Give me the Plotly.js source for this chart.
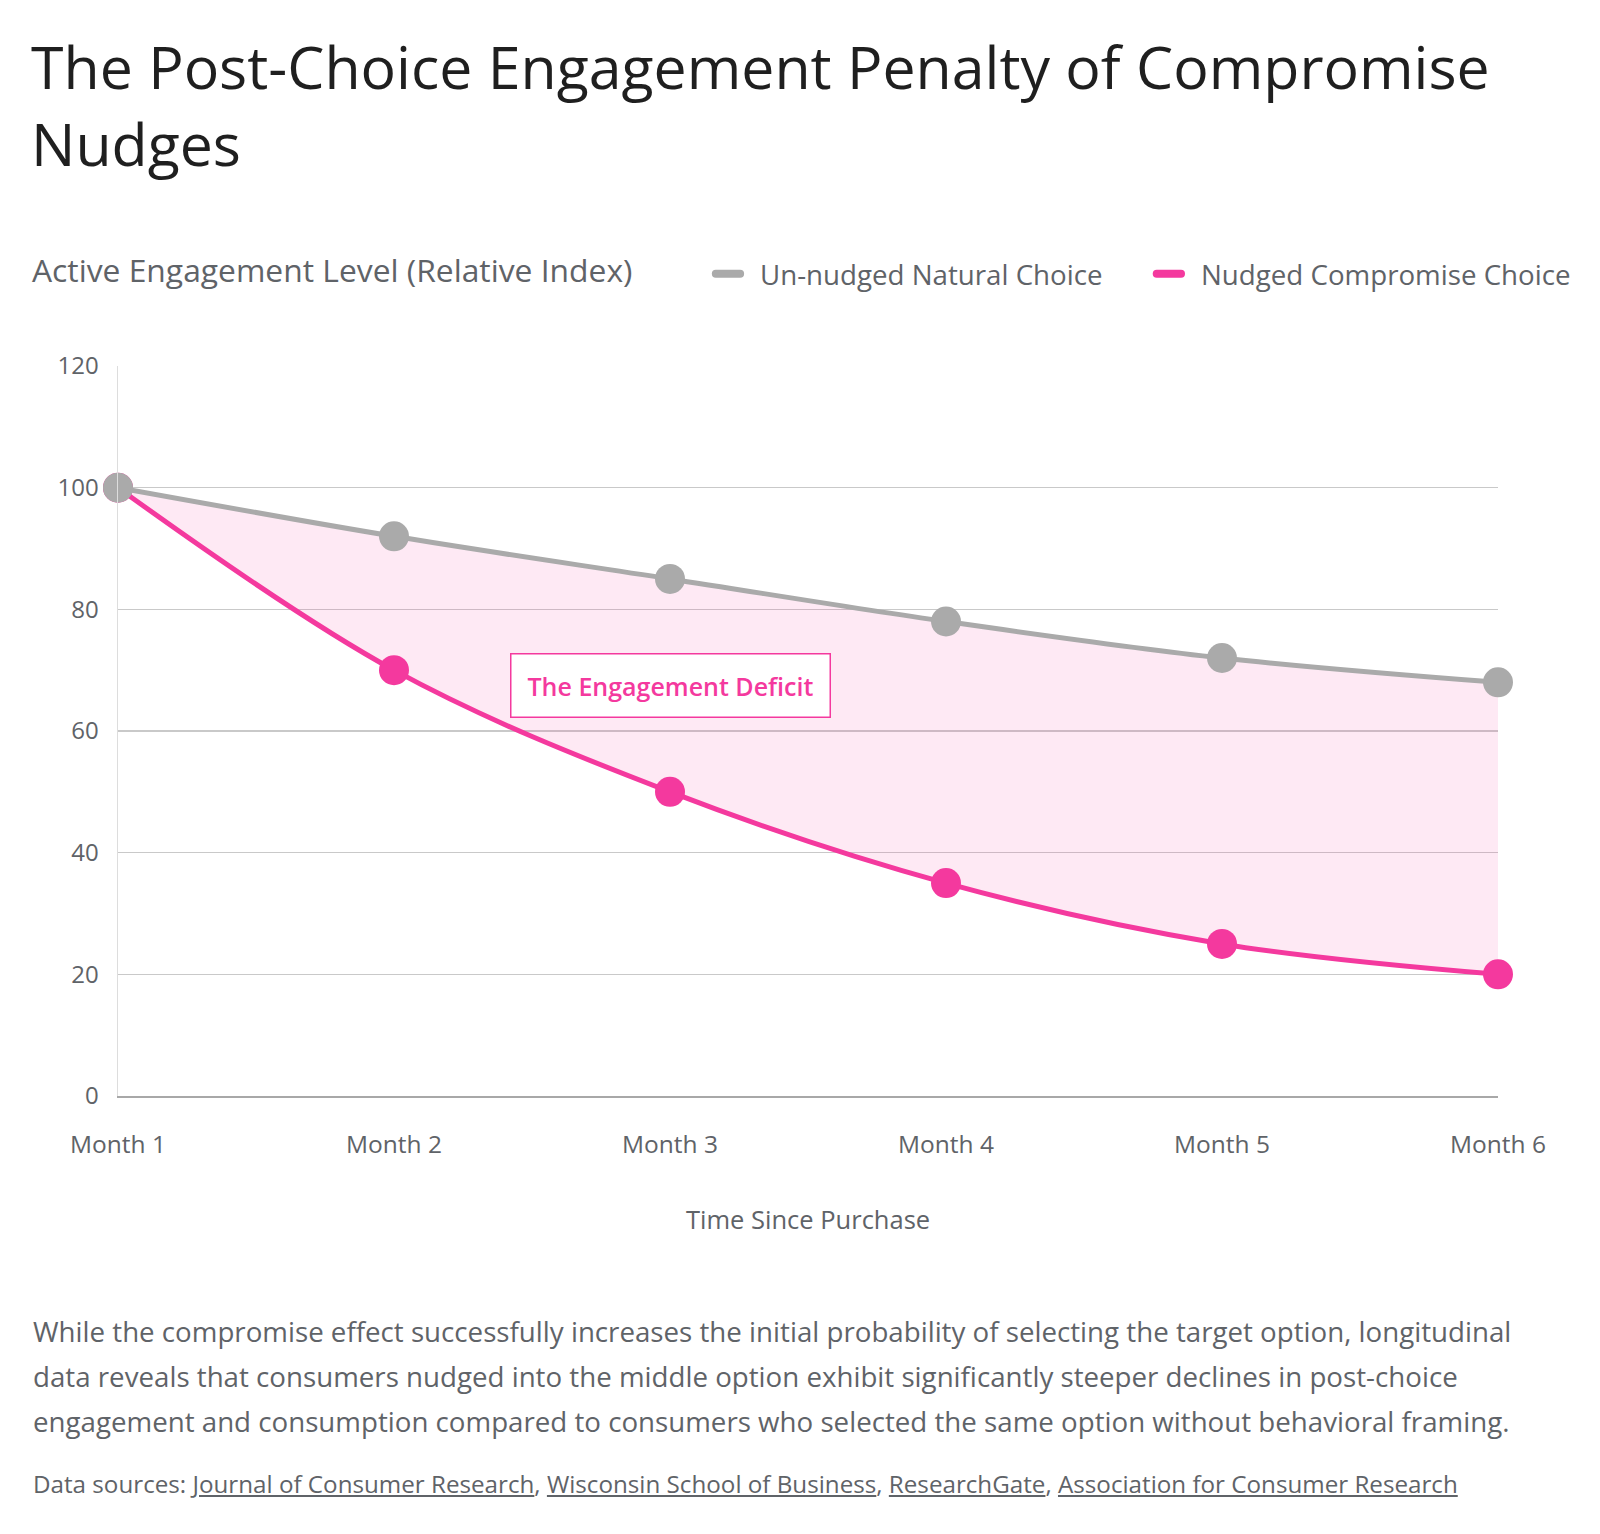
<!DOCTYPE html>
<html>
<head>
<meta charset="utf-8">
<script src="https://cdn.plot.ly/plotly-3.0.1.min.js"></script>
<style>
  html, body { margin: 0; padding: 0; background: #ffffff; }
  #page { position: relative; width: 1600px; height: 1534px; overflow: hidden; font-family: "Open Sans", Roboto, sans-serif; }
  #chart { position: absolute; left: 0; top: 0; width: 1600px; height: 1534px; }
  .title { position: absolute; left: 31px; top: 28px; width: 1560px; font-size: 59px; line-height: 77px; color: #1f1f1f; font-weight: 400; margin: 0; white-space: nowrap; }
  .caption { position: absolute; left: 33px; top: 1309px; width: 1560px; font-size: 27.7px; line-height: 45px; color: #5f6368; margin: 0; white-space: nowrap; }
  .sources { position: absolute; left: 33px; top: 1469px; font-size: 24.2px; line-height: 30px; color: #5f6368; margin: 0; white-space: nowrap; }
  .sources a { color: #5f6368; text-decoration: underline; }
  .shapelayer path { stroke-linecap: round; }
</style>
</head>
<body>
<div id="page">
  <div id="chart"></div>
  <h1 class="title">The Post-Choice Engagement Penalty of Compromise<br>Nudges</h1>
  <p class="caption">While the compromise effect successfully increases the initial probability of selecting the target option, longitudinal<br>data reveals that consumers nudged into the middle option exhibit significantly steeper declines in post-choice<br>engagement and consumption compared to consumers who selected the same option without behavioral framing.</p>
  <p class="sources">Data sources: <a href="#">Journal of Consumer Research</a>, <a href="#">Wisconsin School of Business</a>, <a href="#">ResearchGate</a>, <a href="#">Association for Consumer Research</a></p>
</div>
<script>
// Months since purchase
const months = ["Month 1", "Month 2", "Month 3", "Month 4", "Month 5", "Month 6"];
// Engagement index for each group
const unnudged = [100, 92, 85, 78, 72, 68];
const nudged = [100, 70, 50, 35, 25, 20];
const unnudgedName = "Un-nudged Natural Choice";
const nudgedName = "Nudged Compromise Choice";
const yTicks = [0, 20, 40, 60, 80, 100, 120];

const GREY = "#aaaaaa";
const PINK = "#f4399e";
const FONT = "'Open Sans', Roboto, sans-serif";
const TEXT = "#5f6368";

const traces = [
  {
    x: months, y: nudged, type: "scatter", mode: "lines+markers", cliponaxis: false,
    name: nudgedName,
    line: { color: PINK, width: 5, shape: "spline", smoothing: 1 },
    marker: { color: PINK, size: 30 },
    showlegend: false, hoverinfo: "skip"
  },
  {
    x: months, y: unnudged, type: "scatter", mode: "lines+markers", cliponaxis: false,
    name: unnudgedName,
    fill: "tonexty", fillcolor: "rgba(244,57,158,0.11)",
    line: { color: GREY, width: 5, shape: "spline", smoothing: 1 },
    marker: { color: GREY, size: 30 },
    showlegend: false, hoverinfo: "skip"
  }
];

// Top-right key: short rounded swatch followed by the series name
const KEY_Y = 1.1263;
const keyItems = [
  { name: unnudgedName, color: GREY, x0: 0.4332, x1: 0.4508, tx: 0.4640 },
  { name: nudgedName, color: PINK, x0: 0.7527, x1: 0.7703, tx: 0.7834 }
];
const keyShapes = keyItems.map(k => ({
  type: "line", xref: "paper", yref: "paper", x0: k.x0, x1: k.x1, y0: KEY_Y, y1: KEY_Y,
  line: { color: k.color, width: 8 }
}));
const keyLabels = keyItems.map(k => ({
  xref: "paper", yref: "paper", x: k.tx, y: KEY_Y, xanchor: "left", yanchor: "middle",
  text: k.name, showarrow: false, font: { size: 27.7, color: TEXT, family: FONT }
}));

const layout = {
  width: 1600, height: 1534,
  margin: { l: 117.5, r: 102, t: 365.7, b: 438.3, pad: 0, autoexpand: false },
  paper_bgcolor: "rgba(0,0,0,0)",
  plot_bgcolor: "rgba(0,0,0,0)",
  font: { family: FONT, color: TEXT },
  showlegend: false,
  xaxis: {
    type: "category", range: [0, 5], showgrid: false, zeroline: false,
    showline: true, linecolor: "#a8a8a8", linewidth: 2,
    ticks: "", tickfont: { size: 24.5, color: TEXT, family: FONT },
    ticklabelstandoff: 26, fixedrange: true
  },
  yaxis: {
    range: [0, 120], tickvals: yTicks, showgrid: true, gridcolor: "#c9c9c9", gridwidth: 1.5,
    zeroline: false, showline: true, linecolor: "#dddddd", linewidth: 1.5,
    ticks: "", tickfont: { size: 24, color: TEXT, family: FONT },
    ticklabelstandoff: 13, fixedrange: true
  },
  shapes: keyShapes,
  annotations: [
    {
      xref: "paper", yref: "paper", x: -0.064, y: 1.1325, xanchor: "left", yanchor: "middle",
      text: "Active Engagement Level (Relative Index)", showarrow: false,
      font: { size: 31.8, color: TEXT, family: FONT }
    },
    {
      xref: "paper", yref: "paper", x: 0.5, y: -0.169, xanchor: "center", yanchor: "middle",
      text: "Time Since Purchase", showarrow: false,
      font: { size: 25.5, color: TEXT, family: FONT }
    },
    {
      xref: "x", yref: "y", x: 2, y: 67.5, xanchor: "center", yanchor: "middle",
      text: "The Engagement Deficit", showarrow: false,
      font: { size: 25, color: PINK, family: FONT, weight: 600 },
      bgcolor: "#ffffff", bordercolor: PINK, borderwidth: 1.5, borderpad: 14,
      width: 290, height: 34
    }
  ].concat(keyLabels)
};

Plotly.newPlot("chart", traces, layout, { displayModeBar: false, staticPlot: true });
</script>
</body>
</html>
